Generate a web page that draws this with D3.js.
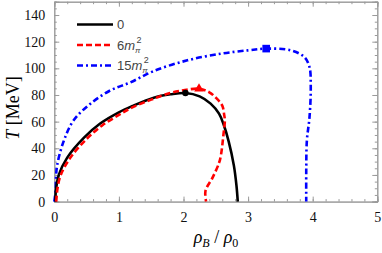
<!DOCTYPE html>
<html>
<head>
<meta charset="utf-8">
<script src="https://cdn.jsdelivr.net/npm/d3@7"></script>
<style>
  body { margin: 0; background: #fff; }
  svg { display: block; }
</style>
</head>
<body>
<div id="chart-container"></div>
<script>
// curve data: [rho_B/rho_0, T (MeV)]
const curve0 = [[0.02,0],[0.02,6],[0.07,20],[0.2,33],[0.46,48],[0.71,58.6],[1.0,67],[1.2,71.5],[1.54,78],
  [1.8,80.5],[2.03,81.5],[2.25,79],[2.42,73.5],[2.55,66],[2.62,58],[2.7,45],[2.78,27],[2.82,12],[2.84,0]];
const curve6 = [[0.03,0],[0.05,10],[0.1,20],[0.25,33],[0.5,47],[0.75,57.5],[1.0,65],[1.2,70.5],[1.5,76.5],
  [1.8,81.5],[2.0,83.5],[2.24,84.7],[2.4,82],[2.5,78],[2.6,72],[2.63,65],[2.64,61],[2.62,51],[2.58,35],
  [2.55,29],[2.45,18],[2.34,8],[2.35,0]];
const curve15 = [[0.0,0],[0.02,8],[0.04,26],[0.15,46],[0.3,61],[0.56,73.5],[0.87,83.5],[1.18,89.5],[1.54,98],
  [2.06,106],[2.58,111],[3.0,113.5],[3.28,114.8],[3.66,113.5],[3.87,108.5],[3.95,101],[3.97,86],[3.95,63],
  [3.91,46],[3.9,23],[3.9,0]];

// critical end points
const cep0 = [2.03, 81.5];
const cep6 = [2.24, 84.7];
const cep15 = [3.28, 114.8];

const xTicks = [0, 1, 2, 3, 4, 5];
const yTicks = [0, 20, 40, 60, 80, 100, 120, 140];

const W = 382, H = 253;
const frame = { left: 54.3, right: 377.3, top: 1.7, bottom: 201.6 };

const svg = d3.select("#chart-container").append("svg")
  .attr("width", W).attr("height", H);

const x = d3.scaleLinear().domain([0, 5]).range([frame.left, frame.right]);
const y = d3.scaleLinear().domain([0, 150]).range([frame.bottom, frame.top]);

// frame with inward ticks on all sides
const frameColor = "#9a9a9a";
function frameAxis(axis, tr) {
  const g = svg.append("g").attr("transform", tr).call(axis);
  g.select(".domain").attr("stroke", frameColor);
  g.selectAll(".tick line").attr("stroke", frameColor);
  return g;
}
const xMinor = d3.range(0, 5.001, 0.2);
const yMinor = d3.range(0, 150.001, 5);

// minor ticks
frameAxis(d3.axisBottom(x).tickValues(xMinor).tickSize(-2.5).tickFormat(""), `translate(0,${frame.bottom})`);
frameAxis(d3.axisTop(x).tickValues(xMinor).tickSize(-2.5).tickFormat(""), `translate(0,${frame.top})`);
frameAxis(d3.axisLeft(y).tickValues(yMinor).tickSize(-2.5).tickFormat(""), `translate(${frame.left},0)`);
frameAxis(d3.axisRight(y).tickValues(yMinor).tickSize(-2.5).tickFormat(""), `translate(${frame.right},0)`);

// major ticks with labels
const xb = frameAxis(d3.axisBottom(x).tickValues(xTicks).tickSize(-5).tickPadding(10).tickFormat(d3.format("d")), `translate(0,${frame.bottom})`);
frameAxis(d3.axisTop(x).tickValues(xTicks).tickSize(-5).tickFormat(""), `translate(0,${frame.top})`);
const yl = frameAxis(d3.axisLeft(y).tickValues(yTicks).tickSize(-5).tickPadding(9).tickFormat(d3.format("d")), `translate(${frame.left},0)`);
frameAxis(d3.axisRight(y).tickValues(yTicks).tickSize(-5).tickFormat(""), `translate(${frame.right},0)`);

[xb, yl].forEach(g => g.selectAll(".tick text")
  .attr("fill", "#111")
  .style("font-family", "'Liberation Serif', serif")
  .style("font-size", "14px"));

// curves
const line = d3.line()
  .x(d => x(d[0]))
  .y(d => y(d[1]))
  .curve(d3.curveCatmullRom.alpha(0.5));

const plot = svg.append("g");
plot.append("path").datum(curve15)
  .attr("fill", "none").attr("stroke", "#0000ff").attr("stroke-width", 2.6)
  .attr("stroke-dasharray", "6,3,2,3").attr("d", line);
plot.append("path").datum(curve0)
  .attr("fill", "none").attr("stroke", "#000").attr("stroke-width", 2.6)
  .attr("d", line);
plot.append("path").datum(curve6)
  .attr("fill", "none").attr("stroke", "#ff0000").attr("stroke-width", 2.6)
  .attr("stroke-dasharray", "6,3").attr("d", line);

// markers
plot.append("circle")
  .attr("cx", x(cep0[0])).attr("cy", y(cep0[1])).attr("r", 3.2).attr("fill", "#000");
plot.append("path")
  .attr("d", d3.symbol().type(d3.symbolTriangle).size(40)())
  .attr("transform", `translate(${x(cep6[0])},${y(cep6[1])})`)
  .attr("fill", "#ff0000");
plot.append("rect")
  .attr("x", x(cep15[0]) - 3.8).attr("y", y(cep15[1]) - 3.8)
  .attr("width", 7.6).attr("height", 7.6).attr("fill", "#0000ff");

// legend
const legendRows = [
  { base: "0", stroke: "#000", dash: null, yPos: 24.5 },
  { base: "6", stroke: "#ff0000", dash: "6,3", yPos: 45 },
  { base: "15", stroke: "#0000ff", dash: "6,3,2,3", yPos: 65.5 }
];
legendRows.forEach(r => {
  svg.append("line")
    .attr("x1", 77).attr("x2", 113).attr("y1", r.yPos).attr("y2", r.yPos)
    .attr("stroke", r.stroke).attr("stroke-width", 2.6)
    .attr("stroke-dasharray", r.dash);
  const t = svg.append("text")
    .attr("x", 117).attr("y", r.yPos + 4.5)
    .attr("fill", "#444")
    .style("font-family", "'Liberation Sans', sans-serif")
    .style("font-size", "13px");
  t.append("tspan").text(r.base);
  if (r.base !== "0") {
    t.append("tspan").style("font-style", "italic").text("m");
    t.append("tspan").attr("dy", 3).style("font-size", "8px").style("font-style", "italic").text("π");
    t.append("tspan").attr("dx", -4).attr("dy", -10).style("font-size", "9px").text("2");
  }
});

// axis titles
const xt = svg.append("text")
  .attr("x", 216).attr("y", 243)
  .attr("text-anchor", "middle")
  .style("font-family", "'Liberation Serif', serif")
  .style("font-size", "18px");
xt.append("tspan").style("font-style", "italic").text("ρ");
xt.append("tspan").attr("dy", 4).style("font-size", "12px").style("font-style", "italic").text("B");
xt.append("tspan").attr("dy", -4).text(" / ");
xt.append("tspan").style("font-style", "italic").text("ρ");
xt.append("tspan").attr("dy", 4).style("font-size", "12px").text("0");

const yt = svg.append("text")
  .attr("transform", "translate(19,108) rotate(-90)")
  .attr("text-anchor", "middle")
  .style("font-family", "'Liberation Serif', serif")
  .style("font-size", "18px");
yt.append("tspan").style("font-style", "italic").text("T");
yt.append("tspan").text(" [MeV]");
</script>
</body>
</html>
